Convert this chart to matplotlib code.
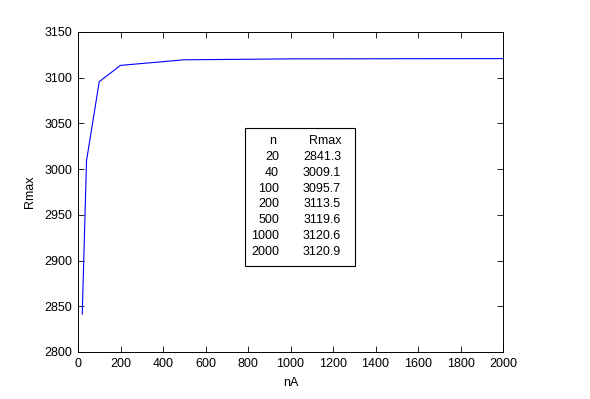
import numpy as np
import matplotlib
matplotlib.use("Agg")
import matplotlib.pyplot as plt

plt.rcParams['font.family'] = ['Liberation Sans', 'DejaVu Sans']
plt.rcParams['font.size'] = 9

# data (n vs Rmax)
n = [20, 40, 100, 200, 500, 1000, 2000]
rmax = [2841.3, 3009.1, 3095.7, 3113.5, 3119.6, 3120.6, 3120.9]
xticks = list(range(0, 2001, 200))
yticks = list(range(2800, 3151, 50))

fig = plt.figure(figsize=(5.9, 3.99), dpi=100)
ax = fig.add_axes([78/590, 1-352/399, 425/590, 320/399])
ax.plot(n, rmax, color=(0, 0, 1), lw=0.8)
ax.set_xlim(0, 2000)
ax.set_ylim(2800, 3150)
ax.set_xticks(xticks)
ax.set_yticks(yticks)
ax.tick_params(direction='in', length=4, width=0.6, top=True, right=True,
               labelsize=9, pad=4, colors='black')
for s in ax.spines.values():
    s.set_linewidth(0.7)
ax.set_xlabel('nA', fontsize=9, labelpad=5)
ax.set_ylabel('Rmax', fontsize=9, labelpad=6)

# table box in figure pixel coordinates
W, H = 590, 399
box = plt.Rectangle((245/W, 1-266/H), 110/W, 138/H, transform=fig.transFigure,
                    fill=True, facecolor='white', edgecolor='black', lw=0.8)
fig.patches.append(box)
rows_y = np.linspace(141, 252, len(n) + 1)
fig.text(276/W, 1-rows_y[0]/H, 'n', ha='right', va='center', fontsize=9)
fig.text(341/W, 1-rows_y[0]/H, 'Rmax', ha='right', va='center', fontsize=9)
for i, (a, b) in enumerate(zip(n, rmax)):
    y = 1 - rows_y[i+1]/H
    fig.text(279/W, y, str(a), ha='right', va='center', fontsize=9)
    fig.text(341/W, y, '%.1f' % b, ha='right', va='center', fontsize=9)

fig.savefig('out.png', dpi=100)
